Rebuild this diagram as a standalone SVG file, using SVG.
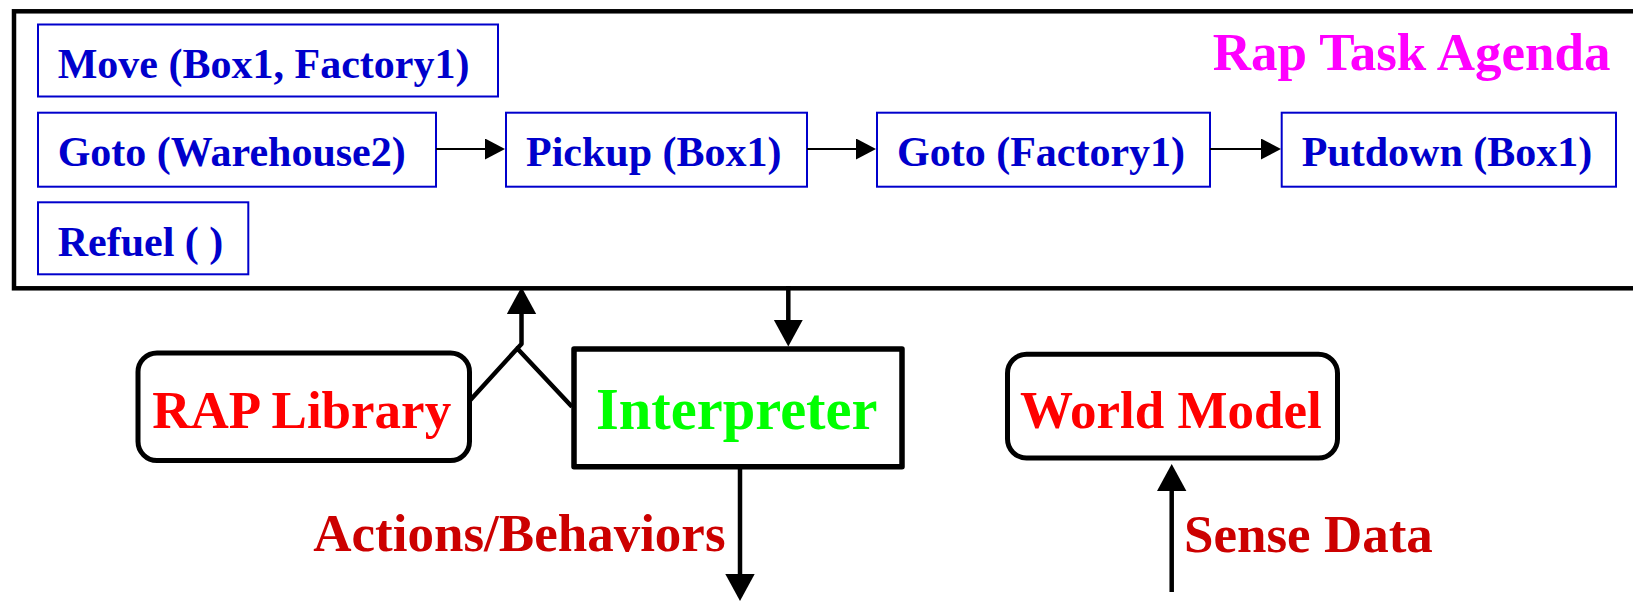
<svg xmlns="http://www.w3.org/2000/svg" width="1633" height="601" viewBox="0 0 1633 601">
  <style>
    text { font-family: "Liberation Serif", "Times New Roman", serif; font-weight: bold; }
    .task rect { fill: #ffffff; stroke: #0000cc; stroke-width: 2; }
    .task text { fill: #0000cc; font-size: 42px; }
    .frame { fill: #ffffff; stroke: #000000; stroke-width: 4.5; }
    .module { fill: #ffffff; stroke: #000000; stroke-width: 5; stroke-linejoin: round; }
    .thin { fill: none; stroke: #000000; stroke-width: 2; }
    .thick { fill: none; stroke: #000000; stroke-width: 4.5; stroke-linejoin: round; }
    .big { font-size: 53px; }
  </style>
  <defs>
    <marker id="headSmall" markerUnits="userSpaceOnUse" markerWidth="20" markerHeight="21" refX="8" refY="10.5" orient="auto">
      <path d="M0,0 L20,10.5 L0,21 Z" fill="#000000"/>
    </marker>
    <marker id="headBig" markerUnits="userSpaceOnUse" markerWidth="27" markerHeight="30" refX="10" refY="14.7" orient="auto">
      <path d="M0,0 L27,14.7 L0,29.4 Z" fill="#000000"/>
    </marker>
  </defs>

  <rect width="1633" height="601" fill="#ffffff"/>

  <!-- agenda frame (runs off the right edge) -->
  <g id="agenda">
    <rect class="frame" x="14" y="11.3" width="1640" height="277"/>
    <text x="1212.7" y="70" class="big" fill="#ff00ff">Rap Task Agenda</text>
  </g>

  <!-- task entries -->
  <g id="task-move" class="task">
    <rect x="38" y="24.5" width="460" height="72"/>
    <text x="57.7" y="78">Move (Box1, Factory1)</text>
  </g>
  <g id="task-goto-warehouse" class="task">
    <rect x="38" y="112.7" width="398" height="74"/>
    <text x="57.7" y="165.7">Goto (Warehouse2)</text>
  </g>
  <g id="task-pickup" class="task">
    <rect x="506" y="112.7" width="301" height="74"/>
    <text x="526" y="165.7">Pickup (Box1)</text>
  </g>
  <g id="task-goto-factory" class="task">
    <rect x="877" y="112.7" width="333" height="74"/>
    <text x="897" y="165.7">Goto (Factory1)</text>
  </g>
  <g id="task-putdown" class="task">
    <rect x="1281.7" y="112.7" width="334.3" height="74"/>
    <text x="1301.7" y="165.7">Putdown (Box1)</text>
  </g>
  <g id="task-refuel" class="task">
    <rect x="38" y="202.3" width="210.3" height="72"/>
    <text x="57.7" y="256">Refuel ( )</text>
  </g>

  <!-- system modules -->
  <g id="rap-library">
    <rect class="module" x="138" y="353" width="331.5" height="107.5" rx="19"/>
    <text x="152.3" y="428.3" class="big" fill="#ff0000">RAP Library</text>
  </g>
  <g id="interpreter">
    <rect class="module" x="574" y="349" width="328" height="117.7" style="stroke-width:5.5"/>
    <text x="596" y="429.3" font-size="58.5" fill="#00ff00">Interpreter</text>
  </g>
  <g id="world-model">
    <rect class="module" x="1007.5" y="354.2" width="330" height="103.8" rx="19"/>
    <text x="1020" y="428.3" class="big" fill="#ff0000">World Model</text>
  </g>

  <!-- connectors -->
  <g id="connectors">
    <line class="thin" x1="436" y1="149" x2="493" y2="149" marker-end="url(#headSmall)"/>
    <line class="thin" x1="807" y1="149" x2="864" y2="149" marker-end="url(#headSmall)"/>
    <line class="thin" x1="1210" y1="149" x2="1269" y2="149" marker-end="url(#headSmall)"/>

    <!-- library and interpreter feed the agenda -->
    <polyline class="thick" points="469,401.5 517.3,348.5 572,406.7"/>
    <polyline class="thick" points="517.3,348.5 521.5,344 521.5,304" marker-end="url(#headBig)"/>

    <!-- agenda to interpreter -->
    <line class="thick" x1="788.3" y1="286" x2="788.3" y2="329.5" marker-end="url(#headBig)"/>

    <!-- interpreter output -->
    <line class="thick" x1="740" y1="466.7" x2="740" y2="584" marker-end="url(#headBig)"/>
    <text x="313.3" y="551" class="big" fill="#cc0000">Actions/Behaviors</text>

    <!-- sensor input -->
    <line class="thick" x1="1171.7" y1="592" x2="1171.7" y2="481" marker-end="url(#headBig)"/>
    <text x="1184" y="552.3" class="big" fill="#cc0000">Sense Data</text>
  </g>
</svg>
